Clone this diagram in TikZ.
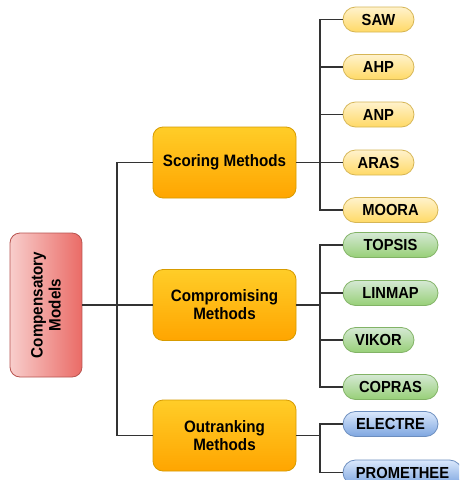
\documentclass[tikz,border=0pt]{standalone}
\usepackage{graphicx}
\usepackage{fontspec}
\setmainfont{Liberation Sans}
\newcommand{\tx}[1]{\scalebox{0.92}[1]{#1}}
\definecolor{lineC}{HTML}{333333}
\definecolor{txtC}{HTML}{000000}
\definecolor{orTop}{HTML}{FFCD28}
\definecolor{orBot}{HTML}{FFA500}
\definecolor{orDr}{HTML}{D79B00}
\definecolor{rdL}{HTML}{F8CECC}
\definecolor{rdR}{HTML}{EA6B66}
\definecolor{rdDr}{HTML}{B85450}
\definecolor{yeTop}{HTML}{FFF2CC}
\definecolor{yeBot}{HTML}{FFD966}
\definecolor{yeDr}{HTML}{D6B656}
\definecolor{grTop}{HTML}{D5E8D4}
\definecolor{grBot}{HTML}{97D077}
\definecolor{grDr}{HTML}{82B366}
\definecolor{blTop}{HTML}{DAE8FC}
\definecolor{blBot}{HTML}{7EA6E0}
\definecolor{blDr}{HTML}{6C8EBF}
\tikzset{
  conn/.style={draw=lineC, line width=1.2pt},
  catbox/.style={rectangle, rounded corners=10pt, draw=orDr, line width=0.8pt,
    top color=orTop, bottom color=orBot, minimum width=143pt, minimum height=71pt,
    align=center, text=txtC, font=\fontsize{16.5}{18}\selectfont\bfseries},
  rootbox/.style={rectangle, rounded corners=10pt, draw=rdDr, line width=0.8pt,
    left color=rdL, right color=rdR, minimum width=72pt, minimum height=144pt,
    text=txtC},
  leaf/.style={rectangle, rounded corners=12.5pt, line width=0.8pt,
    minimum height=25pt, inner sep=0pt, text=txtC,
    font=\fontsize{16}{18}\selectfont\bfseries},
  yleaf/.style={leaf, draw=yeDr, top color=yeTop, bottom color=yeBot},
  gleaf/.style={leaf, draw=grDr, top color=grTop, bottom color=grBot},
  bleaf/.style={leaf, draw=blDr, top color=blTop, bottom color=blBot},
  sw/.style={minimum width=71pt},
  ww/.style={minimum width=95pt},
  xw/.style={minimum width=119pt}
}
\begin{document}
\begin{tikzpicture}[x=1pt,y=-1pt]
\useasboundingbox (0,0) rectangle (459,480);
\begin{scope}
\clip (0,0) rectangle (459,480);
\fill[white] (0,0) rectangle (459,480);
\coordinate (bx) at (117,0);
\coordinate (bl) at (320,0);
% root
\node[rootbox] (root) at (46,305) {};
\node[rotate=90, align=center, text=txtC, font=\fontsize{16.5}{18}\selectfont\bfseries] (roottxt) at (root.center) {\tx{Compensatory}\\\tx{Models}};
% categories
\node[catbox] (sc) at (224.5,162.5) {\tx{Scoring Methods}};
\node[catbox] (cm) at (224.5,305) {\tx{Compromising}\\\tx{Methods}};
\node[catbox] (ou) at (224.5,435.5) {\tx{Outranking}\\\tx{Methods}};
% leaves
\node[yleaf,sw] (saw) at (378.5,19.5) {\tx{SAW}};
\node[yleaf,sw] (ahp) at (378.5,67) {\tx{AHP}};
\node[yleaf,sw] (anp) at (378.5,114.5) {\tx{ANP}};
\node[yleaf,sw] (aras) at (378.5,162.5) {\tx{ARAS}};
\node[yleaf,ww] (moora) at (390.5,210) {\tx{MOORA}};
\node[gleaf,ww] (topsis) at (390.5,245) {\tx{TOPSIS}};
\node[gleaf,ww] (linmap) at (390.5,293) {\tx{LINMAP}};
\node[gleaf,sw] (vikor) at (378.5,340) {\tx{VIKOR}};
\node[gleaf,ww] (copras) at (390.5,387) {\tx{COPRAS}};
\node[bleaf,ww] (electre) at (390.5,424) {\tx{ELECTRE}};
\node[bleaf,xw] (prom) at (402.5,472.5) {\tx{PROMETHEE}};
% trunk
\draw[conn] (root.east) -- (cm.west);
\draw[conn] (sc.west) -- (sc.west -| bx) -- (ou.west -| bx) -- (ou.west);
% branches
\draw[conn] (sc.east) -- (sc.east -| bl);
\draw[conn] (saw.west) -- (saw.west -| bl) -- (moora.west -| bl) -- (moora.west);
\foreach \n in {ahp,anp,aras} \draw[conn] (\n.west -| bl) -- (\n.west);
\draw[conn] (cm.east) -- (cm.east -| bl);
\draw[conn] (topsis.west) -- (topsis.west -| bl) -- (copras.west -| bl) -- (copras.west);
\foreach \n in {linmap,vikor} \draw[conn] (\n.west -| bl) -- (\n.west);
\draw[conn] (ou.east) -- (ou.east -| bl);
\draw[conn] (electre.west) -- (electre.west -| bl) -- (prom.west -| bl) -- (prom.west);
\end{scope}
\end{tikzpicture}
\end{document}
